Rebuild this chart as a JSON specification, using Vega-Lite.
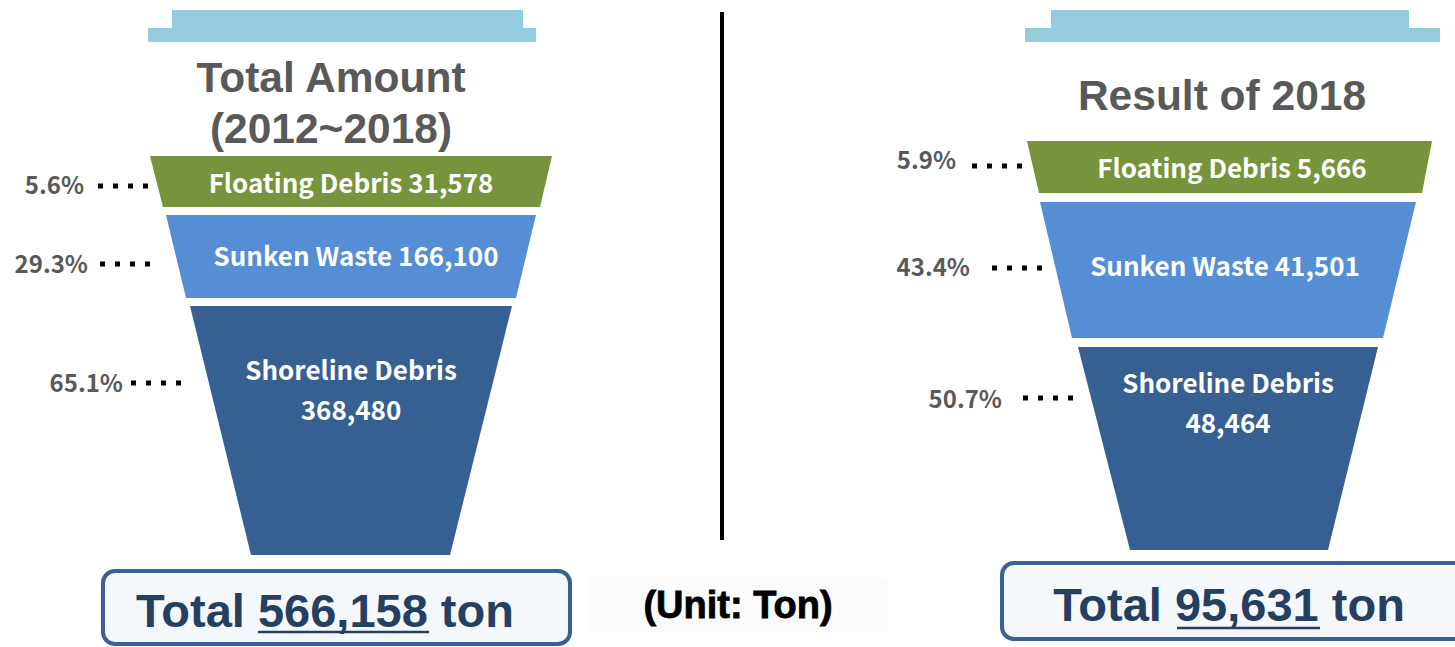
{
  "$schema": "https://vega.github.io/schema/vega-lite/v6.json",
  "autosize": {"type": "fit", "contains": "padding"},
  "width": 1455,
  "height": 647,
  "padding": 0,
  "background": "white",
  "config": {"view": {"stroke": null}, "axis": {"disable": true}},
  "datasets": {
    "funnel": [
      {"panel": "Total", "segment": "Floating Debris", "y": 156, "xl": 150, "xr": 552},
      {"panel": "Total", "segment": "Floating Debris", "y": 207, "xl": 163, "xr": 540},
      {"panel": "Total", "segment": "Sunken Waste", "y": 215, "xl": 166, "xr": 536},
      {"panel": "Total", "segment": "Sunken Waste", "y": 298, "xl": 186, "xr": 516},
      {"panel": "Total", "segment": "Shoreline Debris", "y": 306, "xl": 190, "xr": 512},
      {"panel": "Total", "segment": "Shoreline Debris", "y": 555, "xl": 251, "xr": 450},
      {"panel": "2018", "segment": "Floating Debris", "y": 141, "xl": 1027, "xr": 1432},
      {"panel": "2018", "segment": "Floating Debris", "y": 193, "xl": 1039, "xr": 1422},
      {"panel": "2018", "segment": "Sunken Waste", "y": 202, "xl": 1040, "xr": 1416},
      {"panel": "2018", "segment": "Sunken Waste", "y": 338, "xl": 1072, "xr": 1383},
      {"panel": "2018", "segment": "Shoreline Debris", "y": 347, "xl": 1078, "xr": 1378},
      {"panel": "2018", "segment": "Shoreline Debris", "y": 550, "xl": 1130, "xr": 1328}
    ],
    "caps": [
      {"panel": "Total", "x": 172, "x2": 523, "y": 10, "y2": 29},
      {"panel": "Total", "x": 148, "x2": 536, "y": 28, "y2": 42},
      {"panel": "2018", "x": 1051, "x2": 1409, "y": 10, "y2": 29},
      {"panel": "2018", "x": 1025, "x2": 1440, "y": 28, "y2": 42}
    ],
    "boxes": [
      {"panel": "Total", "x": 103, "x2": 570, "y": 571, "y2": 644},
      {"panel": "2018", "x": 1002, "x2": 1475, "y": 563, "y2": 639}
    ],
    "dots": [
      {"label": "5.6%", "x": 98, "x2": 150, "y": 186},
      {"label": "29.3%", "x": 100, "x2": 152, "y": 264},
      {"label": "65.1%", "x": 131, "x2": 183, "y": 383},
      {"label": "5.9%", "x": 972, "x2": 1024, "y": 166},
      {"label": "43.4%", "x": 992, "x2": 1044, "y": 268},
      {"label": "50.7%", "x": 1023, "x2": 1075, "y": 398}
    ],
    "underline": [
      {"x": 258, "x2": 429, "y": 632},
      {"x": 1177, "x2": 1320, "y": 628}
    ],
    "divider": [{"x": 722, "y": 12, "y2": 540}],
    "unitbg": [{"x": 588, "x2": 888, "y": 577, "y2": 633}],
    "texts": [
      {"kind": "title", "text": "Total Amount\n(2012~2018)", "x": 331, "y": 79},
      {"kind": "title", "text": "Result of 2018", "x": 1222, "y": 97},
      {"kind": "segment", "text": "Floating Debris 31,578", "x": 351, "y": 185},
      {"kind": "segment", "text": "Sunken Waste 166,100", "x": 356, "y": 258},
      {"kind": "segment", "text": "Shoreline Debris\n368,480", "x": 351, "y": 372},
      {"kind": "segment", "text": "Floating Debris 5,666", "x": 1232, "y": 170},
      {"kind": "segment", "text": "Sunken Waste 41,501", "x": 1225, "y": 268},
      {"kind": "segment", "text": "Shoreline Debris\n48,464", "x": 1228, "y": 385},
      {"kind": "pct", "text": "5.6%", "x": 84, "y": 187},
      {"kind": "pct", "text": "29.3%", "x": 88, "y": 266},
      {"kind": "pct", "text": "65.1%", "x": 123, "y": 385},
      {"kind": "pct", "text": "5.9%", "x": 956, "y": 162},
      {"kind": "pct", "text": "43.4%", "x": 970, "y": 269},
      {"kind": "pct", "text": "50.7%", "x": 1002, "y": 401},
      {"kind": "total", "text": "Total 566,158 ton", "x": 325, "y": 613},
      {"kind": "total", "text": "Total 95,631 ton", "x": 1229, "y": 607},
      {"kind": "unit", "text": "(Unit: Ton)", "x": 738, "y": 607}
    ]
  },
  "encoding": {},
  "layer": [
    {
      "data": {"name": "unitbg"},
      "mark": {"type": "rect", "fill": "#FBFBFB", "cornerRadius": 3},
      "encoding": {
        "x": {"field": "x", "type": "quantitative", "scale": {"domain": [0, 1455], "nice": false, "zero": false}},
        "x2": {"field": "x2"},
        "y": {"field": "y", "type": "quantitative", "scale": {"domain": [0, 647], "nice": false, "zero": false, "reverse": true}},
        "y2": {"field": "y2"}
      }
    },
    {
      "data": {"name": "caps"},
      "mark": {"type": "rect", "fill": "#93CDDD"},
      "encoding": {
        "x": {"field": "x", "type": "quantitative"},
        "x2": {"field": "x2"},
        "y": {"field": "y", "type": "quantitative"},
        "y2": {"field": "y2"}
      }
    },
    {
      "data": {"name": "funnel"},
      "mark": {"type": "area", "orient": "horizontal"},
      "encoding": {
        "y": {"field": "y", "type": "quantitative"},
        "x": {"field": "xl", "type": "quantitative"},
        "x2": {"field": "xr"},
        "detail": {"field": "panel"},
        "color": {
          "field": "segment",
          "type": "nominal",
          "legend": null,
          "scale": {"domain": ["Floating Debris", "Sunken Waste", "Shoreline Debris"], "range": ["#77933C", "#558ED5", "#376092"]}
        }
      }
    },
    {
      "data": {"name": "boxes"},
      "mark": {"type": "rect", "fill": "#F4F7FB", "stroke": "#3B6190", "strokeWidth": 4, "cornerRadius": 12, "clip": true},
      "encoding": {
        "x": {"field": "x", "type": "quantitative"},
        "x2": {"field": "x2"},
        "y": {"field": "y", "type": "quantitative"},
        "y2": {"field": "y2"}
      }
    },
    {
      "data": {"name": "divider"},
      "mark": {"type": "rule", "color": "black", "strokeWidth": 4},
      "encoding": {
        "x": {"field": "x", "type": "quantitative"},
        "y": {"field": "y", "type": "quantitative"},
        "y2": {"field": "y2"}
      }
    },
    {
      "data": {"name": "dots"},
      "mark": {"type": "rule", "color": "black", "strokeWidth": 5, "strokeDash": [5, 10], "strokeCap": "butt"},
      "encoding": {
        "x": {"field": "x", "type": "quantitative"},
        "x2": {"field": "x2"},
        "y": {"field": "y", "type": "quantitative"}
      }
    },
    {
      "data": {"name": "underline"},
      "mark": {"type": "rule", "color": "#243F60", "strokeWidth": 2.5},
      "encoding": {
        "x": {"field": "x", "type": "quantitative"},
        "x2": {"field": "x2"},
        "y": {"field": "y", "type": "quantitative"}
      }
    },
    {
      "data": {"name": "texts"},
      "transform": [{"filter": "datum.kind === 'title'"}],
      "mark": {"type": "text", "font": "Liberation Sans", "fontWeight": "bold", "fontSize": 42.5, "lineHeight": 51, "lineBreak": "\n", "color": "#595959", "align": "center", "baseline": "middle"},
      "encoding": {
        "x": {"field": "x", "type": "quantitative"},
        "y": {"field": "y", "type": "quantitative"},
        "text": {"field": "text"}
      }
    },
    {
      "data": {"name": "texts"},
      "transform": [{"filter": "datum.kind === 'segment'"}],
      "mark": {"type": "text", "font": "Noto Sans CJK KR", "fontWeight": "bold", "fontSize": 26, "lineHeight": 40, "lineBreak": "\n", "color": "white", "align": "center", "baseline": "middle"},
      "encoding": {
        "x": {"field": "x", "type": "quantitative"},
        "y": {"field": "y", "type": "quantitative"},
        "text": {"field": "text"}
      }
    },
    {
      "data": {"name": "texts"},
      "transform": [{"filter": "datum.kind === 'pct'"}],
      "mark": {"type": "text", "font": "Noto Sans CJK KR", "fontWeight": "bold", "fontSize": 24, "color": "#595959", "align": "right", "baseline": "middle"},
      "encoding": {
        "x": {"field": "x", "type": "quantitative"},
        "y": {"field": "y", "type": "quantitative"},
        "text": {"field": "text"}
      }
    },
    {
      "data": {"name": "texts"},
      "transform": [{"filter": "datum.kind === 'total'"}],
      "mark": {"type": "text", "font": "Liberation Sans", "fontWeight": "bold", "fontSize": 47, "color": "#243F60", "align": "center", "baseline": "middle"},
      "encoding": {
        "x": {"field": "x", "type": "quantitative"},
        "y": {"field": "y", "type": "quantitative"},
        "text": {"field": "text"}
      }
    },
    {
      "data": {"name": "texts"},
      "transform": [{"filter": "datum.kind === 'unit'"}],
      "mark": {"type": "text", "font": "Liberation Sans", "fontWeight": "bold", "fontSize": 38, "color": "black", "align": "center", "baseline": "middle", "stroke": "black", "strokeWidth": 0.8},
      "encoding": {
        "x": {"field": "x", "type": "quantitative"},
        "y": {"field": "y", "type": "quantitative"},
        "text": {"field": "text"}
      }
    }
  ]
}
